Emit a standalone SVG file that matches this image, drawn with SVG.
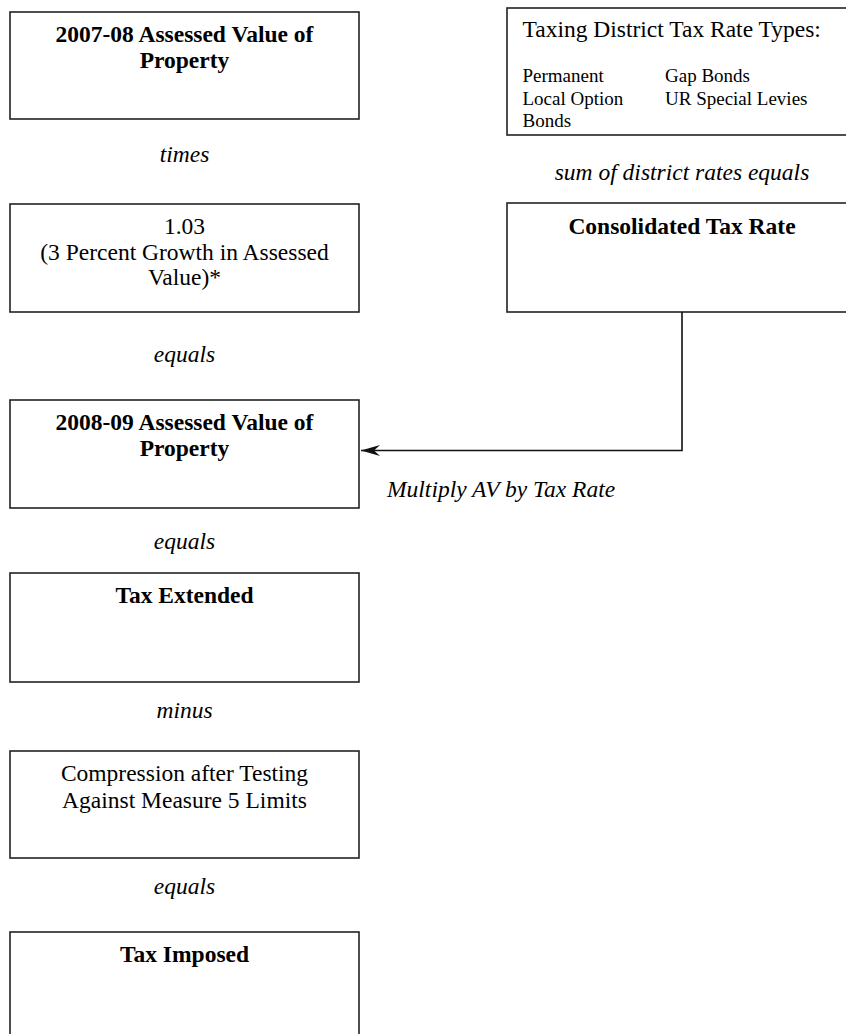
<svg xmlns="http://www.w3.org/2000/svg" width="846" height="1034" viewBox="0 0 846 1034">
<style>
text{font-family:"Liberation Serif","Times New Roman",serif;fill:#000}
.box{fill:#fff;stroke:#222;stroke-width:1.6}
.b{font-weight:bold;font-size:23.5px}
.r{font-size:23.5px}
.s{font-size:19px}
.i{font-style:italic;font-size:23.5px}
.m{text-anchor:middle}
.conn{fill:none;stroke:#111;stroke-width:1.6}
</style>
<defs>
<marker id="arr" markerWidth="22" markerHeight="12" refX="20" refY="6" orient="auto" markerUnits="userSpaceOnUse">
<path d="M20,6 L1,0.5 L7,6 L1,11.5 Z" fill="#111"/>
</marker>
</defs>
<rect width="846" height="1034" fill="#fff"/>

<g id="node-av0708">
<rect class="box" x="10" y="12" width="349" height="107"/>
<text class="b m" x="184.5" y="42">2007-08 Assessed Value of</text>
<text class="b m" x="184.5" y="68">Property</text>
</g>
<text class="i m" x="184.5" y="162">times</text>

<g id="node-growth">
<rect class="box" x="10" y="204" width="349" height="108"/>
<text class="r m" x="184.5" y="234">1.03</text>
<text class="r m" x="184.5" y="260">(3 Percent Growth in Assessed</text>
<text class="r m" x="184.5" y="285">Value)*</text>
</g>
<text class="i m" x="184.5" y="362">equals</text>

<g id="node-av0809">
<rect class="box" x="10" y="400" width="349" height="108"/>
<text class="b m" x="184.5" y="430">2008-09 Assessed Value of</text>
<text class="b m" x="184.5" y="456">Property</text>
</g>
<text class="i m" x="184.5" y="549">equals</text>

<g id="node-taxext">
<rect class="box" x="10" y="573" width="349" height="109"/>
<text class="b m" x="184.5" y="603">Tax Extended</text>
</g>
<text class="i m" x="184.5" y="718">minus</text>

<g id="node-compression">
<rect class="box" x="10" y="751" width="349" height="107"/>
<text class="r m" x="184.5" y="781">Compression after Testing</text>
<text class="r m" x="184.5" y="808">Against Measure 5 Limits</text>
</g>
<text class="i m" x="184.5" y="894">equals</text>

<g id="node-taximposed">
<rect class="box" x="10" y="932" width="349" height="110"/>
<text class="b m" x="184.5" y="962">Tax Imposed</text>
</g>

<g id="node-ratetypes">
<rect class="box" x="507" y="8" width="350" height="127"/>
<text class="r" x="522.5" y="37">Taxing District Tax Rate Types:</text>
<text class="s" x="522.5" y="82">Permanent</text>
<text class="s" x="522.5" y="104.5">Local Option</text>
<text class="s" x="522.5" y="127">Bonds</text>
<text class="s" x="665" y="82">Gap Bonds</text>
<text class="s" x="665" y="104.5">UR Special Levies</text>
</g>
<text class="i m" x="682" y="180">sum of district rates equals</text>

<g id="node-consolidated">
<rect class="box" x="507" y="203" width="350" height="109"/>
<text class="b m" x="682" y="234">Consolidated Tax Rate</text>
</g>

<g id="connectors">
<path class="conn" d="M682,312 V450.5 H361" marker-end="url(#arr)"/>
<text class="i" x="387" y="497">Multiply AV by Tax Rate</text>
</g>
</svg>
